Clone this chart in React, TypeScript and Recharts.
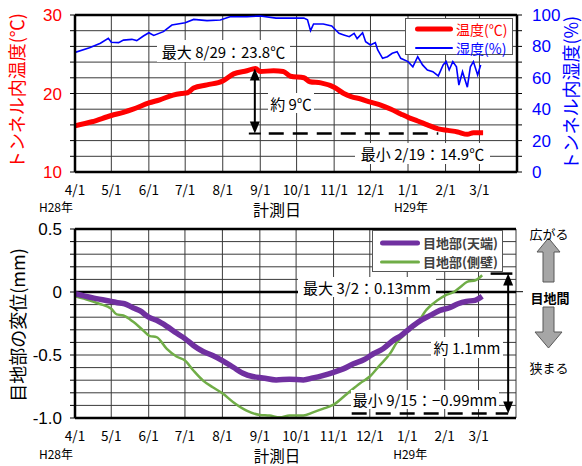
import React from "react";
import {
  LineChart,
  Line,
  XAxis,
  YAxis,
  CartesianGrid,
  ReferenceLine,
  Legend,
} from "recharts";

// days counted from 4/1 (H28)
const monthTicks = [0, 30, 61, 91, 122, 153, 183, 214, 244, 275, 306, 334, 365];
const monthLabels = ["4/1", "5/1", "6/1", "7/1", "8/1", "9/1", "10/1", "11/1", "12/1", "1/1", "2/1", "3/1", ""];
const eraLabels: Record<number, string> = { 0: "H28年", 275: "H29年" };

const tempTicks = [10, 12, 14, 16, 18, 20, 22, 24, 26, 28, 30];
const humTicks = [0, 10, 20, 30, 40, 50, 60, 70, 80, 90, 100];
const dispTicks = [-1, -0.9, -0.8, -0.7, -0.6, -0.5, -0.4, -0.3, -0.2, -0.1, 0, 0.1, 0.2, 0.3, 0.4, 0.5];

const temperature = [
  { day: 0, v: 15.9 }, { day: 14, v: 16.4 }, { day: 30, v: 17.2 }, { day: 40, v: 17.6 },
  { day: 48, v: 18.0 }, { day: 61, v: 18.8 }, { day: 70, v: 19.2 }, { day: 81, v: 19.8 },
  { day: 88, v: 20.0 }, { day: 93, v: 20.1 }, { day: 98, v: 20.7 }, { day: 109, v: 21.1 },
  { day: 122, v: 21.6 }, { day: 131, v: 22.5 }, { day: 142, v: 22.9 }, { day: 149, v: 23.2 },
  { day: 153, v: 22.8 }, { day: 164, v: 22.9 }, { day: 172, v: 22.8 }, { day: 178, v: 22.2 },
  { day: 189, v: 22.0 }, { day: 194, v: 21.5 }, { day: 203, v: 21.35 }, { day: 214, v: 20.8 },
  { day: 222, v: 20.0 }, { day: 228, v: 19.6 }, { day: 236, v: 19.3 }, { day: 244, v: 18.9 },
  { day: 253, v: 18.5 }, { day: 261, v: 18.0 }, { day: 269, v: 17.4 }, { day: 276, v: 16.9 },
  { day: 283, v: 16.5 }, { day: 291, v: 16.0 }, { day: 300, v: 15.5 }, { day: 308, v: 15.3 },
  { day: 316, v: 15.1 }, { day: 324, v: 14.8 }, { day: 329, v: 15.0 }, { day: 337, v: 15.0 },
];

const humidity = [
  { day: 0, v: 76.2 }, { day: 12, v: 79.2 }, { day: 21, v: 82 }, { day: 27.5, v: 85.2 },
  { day: 30, v: 82.6 }, { day: 36, v: 82.4 }, { day: 40, v: 84 }, { day: 47, v: 84.5 },
  { day: 51, v: 83.7 }, { day: 56.5, v: 86.6 }, { day: 61, v: 88.7 }, { day: 65, v: 87 },
  { day: 73, v: 89.4 }, { day: 80, v: 93.6 }, { day: 91, v: 95 }, { day: 98, v: 97.2 },
  { day: 109, v: 96.4 }, { day: 120, v: 96.8 }, { day: 128, v: 98.9 }, { day: 142, v: 98.9 },
  { day: 153, v: 99.4 }, { day: 166, v: 98 }, { day: 178, v: 98 }, { day: 189, v: 98 },
  { day: 192, v: 97 }, { day: 194.5, v: 90 }, { day: 197, v: 94.3 }, { day: 205, v: 94.3 },
  { day: 212, v: 93 }, { day: 218, v: 88.3 }, { day: 222, v: 87.3 }, { day: 226.5, v: 86.2 },
  { day: 230.5, v: 88.3 }, { day: 233, v: 85 }, { day: 237.5, v: 88.7 }, { day: 240, v: 83 },
  { day: 244, v: 80.9 }, { day: 248, v: 82.4 }, { day: 250, v: 77.7 }, { day: 254, v: 72.4 },
  { day: 258, v: 73.4 }, { day: 262, v: 75.6 }, { day: 266, v: 76.6 }, { day: 269, v: 72.4 },
  { day: 275, v: 70.3 }, { day: 279, v: 67 }, { day: 283, v: 73.4 }, { day: 287, v: 68.2 },
  { day: 291, v: 65 }, { day: 295.5, v: 63.9 }, { day: 300, v: 61.2 }, { day: 304, v: 68.2 },
  { day: 306.5, v: 70.3 }, { day: 309, v: 65 }, { day: 312, v: 70.3 }, { day: 315, v: 67 },
  { day: 317, v: 55.4 }, { day: 320, v: 63.9 }, { day: 324, v: 54 }, { day: 326.5, v: 67 },
  { day: 329, v: 70.3 }, { day: 332.5, v: 61.8 }, { day: 335, v: 68.2 },
];

// 目地部(天端)
const crown = [
  { day: 0, v: -0.013 }, { day: 14, v: -0.045 }, { day: 30, v: -0.074 }, { day: 37, v: -0.088 },
  { day: 41, v: -0.093 }, { day: 48, v: -0.125 }, { day: 54, v: -0.15 }, { day: 61, v: -0.2 },
  { day: 67.5, v: -0.225 }, { day: 76, v: -0.273 }, { day: 84, v: -0.326 }, { day: 91, v: -0.37 },
  { day: 98, v: -0.424 }, { day: 106, v: -0.472 }, { day: 114, v: -0.504 }, { day: 122, v: -0.544 },
  { day: 131, v: -0.597 }, { day: 139, v: -0.645 }, { day: 147, v: -0.671 }, { day: 155.5, v: -0.682 },
  { day: 166.5, v: -0.698 }, { day: 177.5, v: -0.692 }, { day: 189, v: -0.698 }, { day: 197, v: -0.682 },
  { day: 205, v: -0.663 }, { day: 214, v: -0.637 }, { day: 222, v: -0.61 }, { day: 230.5, v: -0.57 },
  { day: 239, v: -0.538 }, { day: 247, v: -0.49 }, { day: 255, v: -0.45 }, { day: 264, v: -0.38 },
  { day: 270, v: -0.345 }, { day: 277, v: -0.29 }, { day: 285, v: -0.233 }, { day: 294, v: -0.186 },
  { day: 302, v: -0.146 }, { day: 310, v: -0.125 }, { day: 317, v: -0.093 }, { day: 324, v: -0.074 },
  { day: 331, v: -0.066 }, { day: 337, v: -0.034 },
];

// 目地部(側壁)
const sideWall = [
  { day: 0, v: -0.034 }, { day: 9, v: -0.058 }, { day: 20, v: -0.093 }, { day: 30, v: -0.133 },
  { day: 34.5, v: -0.178 }, { day: 40, v: -0.186 }, { day: 48.5, v: -0.239 }, { day: 56.5, v: -0.305 },
  { day: 62, v: -0.35 }, { day: 67.5, v: -0.358 }, { day: 76, v: -0.451 }, { day: 84, v: -0.512 },
  { day: 91, v: -0.544 }, { day: 98, v: -0.623 }, { day: 106, v: -0.703 }, { day: 114, v: -0.756 },
  { day: 122, v: -0.804 }, { day: 131, v: -0.875 }, { day: 142, v: -0.942 }, { day: 153, v: -0.976 },
  { day: 161, v: -0.981 }, { day: 169.5, v: -0.995 }, { day: 177.5, v: -0.981 }, { day: 189, v: -0.98 },
  { day: 197, v: -0.955 }, { day: 205, v: -0.928 }, { day: 214, v: -0.894 }, { day: 225, v: -0.809 },
  { day: 236, v: -0.724 }, { day: 244, v: -0.671 }, { day: 252, v: -0.584 }, { day: 261, v: -0.485 },
  { day: 266, v: -0.406 }, { day: 275, v: -0.318 }, { day: 283, v: -0.252 }, { day: 291, v: -0.14 },
  { day: 300, v: -0.066 }, { day: 306.5, v: -0.027 }, { day: 313.5, v: 0 }, { day: 319, v: 0.04 },
  { day: 324.5, v: 0.08 }, { day: 331.5, v: 0.093 }, { day: 337, v: 0.133 },
];

const JP = "'Noto Sans CJK JP', 'Noto Sans', sans-serif";
const NUM = "'Liberation Sans', Arial, sans-serif";

const DateTick = (props: any) => {
  const { x, y, payload, offA, offB } = props;
  const i = monthTicks.indexOf(payload.value);
  const era = eraLabels[payload.value];
  return (
    <g>
      <text x={x} y={y + offA} textAnchor="middle" dominantBaseline="central" fontSize={13.5} fontFamily={JP} fill="#000">
        {monthLabels[i]}
      </text>
      {era && (
        <text x={payload.value === 0 ? x - 19 : x + 3} y={y + offB} textAnchor="middle" dominantBaseline="central" fontSize={12} fontFamily={JP} fill="#000">
          {era}
        </text>
      )}
    </g>
  );
};

const DoubleArrow = (props: any) => {
  const { x1, y1, y2, foot } = props;
  const top = Math.min(y1, y2);
  const bot = Math.max(y1, y2);
  const h = 12;
  const w = 5;
  return (
    <g>
      <line x1={x1} y1={top + h - 1} x2={x1} y2={bot - h + 1} stroke="#000" strokeWidth={2} />
      <polygon points={`${x1},${top} ${x1 - w},${top + h} ${x1 + w},${top + h}`} fill="#000" />
      <polygon points={`${x1},${bot} ${x1 - w},${bot - h} ${x1 + w},${bot - h}`} fill="#000" />
      {foot && <line x1={x1 - 6} y1={bot} x2={x1 + 6} y2={bot} stroke="#000" strokeWidth={2} />}
    </g>
  );
};

const LegendRow = ({ color, thick, label, textColor, bold, size, len }: any) => (
  <div style={{ display: "flex", alignItems: "center", height: 19, whiteSpace: "nowrap" }}>
    <svg width={len} height={8} style={{ marginRight: 3, flexShrink: 0 }}>
      <line x1={thick / 2} y1={4} x2={len - thick / 2} y2={4} stroke={color} strokeWidth={thick} strokeLinecap="round" />
    </svg>
    <span style={{ color: textColor, fontSize: size, fontWeight: bold ? 700 : 400, fontFamily: JP, lineHeight: 1, whiteSpace: "nowrap" }}>{label}</span>
  </div>
);

const TopLegend = () => (
  <div style={{ border: "1px solid #555", background: "#fff", width: 108, height: 37, boxSizing: "border-box", padding: "0 0 0 9px", overflow: "visible" }}>
    <LegendRow color="#ff0000" thick={5} len={38} label="温度(℃)" textColor="#ff0000" size={14} />
    <LegendRow color="#0000ff" thick={2} len={38} label="湿度(%)" textColor="#0000ff" size={14} />
  </div>
);

const BottomLegend = () => (
  <div style={{ border: "1px solid #555", background: "#fff", width: 131, height: 42, boxSizing: "border-box", padding: "2px 0 0 7px", overflow: "visible" }}>
    <LegendRow color="#7030a0" thick={5} len={40} label="目地部(天端)" textColor="#404040" bold size={13} />
    <LegendRow color="#70ad47" thick={3} len={40} label="目地部(側壁)" textColor="#404040" bold size={13} />
  </div>
);

const Note = ({ left, top, width, height, text, size = 15 }: any) => (
  <div
    style={{
      position: "absolute", left, top, width, height, background: "#fff",
      display: "flex", alignItems: "center", justifyContent: "center",
      fontSize: size, fontFamily: JP, whiteSpace: "nowrap", lineHeight: 1, color: "#000",
    }}
  >
    {text}
  </div>
);

const VTitle = ({ cx, cy, text, color }: any) => (
  <div
    style={{
      position: "absolute", left: cx, top: cy, transform: "translate(-50%, -50%) rotate(-90deg)",
      fontSize: 18, fontFamily: JP, color, whiteSpace: "nowrap", lineHeight: 1,
    }}
  >
    {text}
  </div>
);

const HText = ({ cx, cy, text, size = 16, bold = false }: any) => (
  <div
    style={{
      position: "absolute", left: cx, top: cy, transform: "translate(-50%, -50%)",
      fontSize: size, fontWeight: bold ? 700 : 400, fontFamily: JP, whiteSpace: "nowrap", lineHeight: 1, color: "#000",
    }}
  >
    {text}
  </div>
);

const dispFormat = (v: number) => {
  const k = Math.round(v * 10);
  if (k === 5) return "0.5";
  if (k === 0) return "0";
  if (k === -5) return "-0.5";
  if (k === -10) return "-1.0";
  return "";
};

export default function App() {
  return (
    <div style={{ position: "absolute", left: 0, top: 0, width: 582, height: 466, background: "#fff", fontFamily: JP }}>
      <div style={{ position: "absolute", left: 0, top: 0 }}>
        <LineChart width={582} height={225} margin={{ top: 15, right: 20, bottom: 23, left: 0 }}>
          <CartesianGrid yAxisId="t" stroke="#3a3a3a" strokeWidth={1} />
          <XAxis
            type="number" dataKey="day" domain={[0, 365]} ticks={monthTicks} interval={0}
            tick={<DateTick offA={16.5} offB={34} />} tickSize={0} tickMargin={0} tickLine={false}
            height={30} axisLine={{ stroke: "#000", strokeWidth: 2.5 }} allowDataOverflow
          />
          <YAxis
            yAxisId="t" domain={[10, 30]} ticks={tempTicks} interval={0} width={75}
            tickFormatter={(v: number) => (v % 10 === 0 ? String(v) : "")}
            tick={{ fill: "#ff0000", fontSize: 17, fontFamily: NUM }}
            tickSize={5} tickMargin={8} tickLine={{ stroke: "#000" }}
            axisLine={{ stroke: "#000", strokeWidth: 2.5 }}
          />
          <YAxis
            yAxisId="h" orientation="right" domain={[0, 100]} ticks={humTicks} interval={0} width={45}
            tickFormatter={(v: number) => (v % 20 === 0 ? String(v) : "")}
            tick={{ fill: "#0000ff", fontSize: 17, fontFamily: NUM }}
            tickSize={5} tickMargin={10} tickLine={{ stroke: "#000" }}
            axisLine={{ stroke: "#000", strokeWidth: 2.5 }}
          />
          <ReferenceLine yAxisId="t" y={30} stroke="#000" strokeWidth={2.5} />
          <Line data={humidity} yAxisId="h" dataKey="v" type="linear" stroke="#0000ff" strokeWidth={1.6} dot={false} isAnimationActive={false} />
          <Line data={temperature} yAxisId="t" dataKey="v" type="monotone" stroke="#ff0000" strokeWidth={5} dot={false} isAnimationActive={false} />
          <ReferenceLine
            yAxisId="t" segment={[{ x: 160, y: 14.9 }, { x: 300, y: 14.9 }]}
            stroke="#000" strokeWidth={2.5} strokeDasharray="15 9"
          />
          <ReferenceLine
            yAxisId="t" segment={[{ x: 148.5, y: 23.2 }, { x: 148.5, y: 14.9 }]}
            shape={<DoubleArrow foot />}
          />
          <Legend
            layout="vertical" align="center" verticalAlign="middle"
            content={() => <TopLegend />}
            wrapperStyle={{ left: 405, top: 18, width: 108, height: 37 }}
          />
        </LineChart>
      </div>

      <div style={{ position: "absolute", left: 0, top: 220 }}>
        <LineChart width={582} height={246} margin={{ top: 9, right: 66, bottom: 18, left: 0 }}>
          <CartesianGrid stroke="#3a3a3a" strokeWidth={1} />
          <XAxis
            type="number" dataKey="day" domain={[0, 365]} ticks={monthTicks} interval={0}
            tick={<DateTick offA={17} offB={35.5} />} tickSize={0} tickMargin={0} tickLine={false}
            height={30} axisLine={{ stroke: "#000", strokeWidth: 2.5 }} allowDataOverflow
          />
          <YAxis
            domain={[-1, 0.5]} ticks={dispTicks} interval={0} width={75}
            tickFormatter={dispFormat}
            tick={{ fill: "#000", fontSize: 17, fontFamily: NUM }}
            tickSize={5} tickMargin={8} tickLine={{ stroke: "#000" }}
            axisLine={{ stroke: "#000", strokeWidth: 2.5 }}
          />
          <ReferenceLine y={0.5} stroke="#000" strokeWidth={2.5} />
          <ReferenceLine y={0} stroke="#000" strokeWidth={2.5} />
          <Line data={sideWall} dataKey="v" type="monotone" stroke="#70ad47" strokeWidth={2.5} dot={false} isAnimationActive={false} />
          <Line data={crown} dataKey="v" type="monotone" stroke="#7030a0" strokeWidth={5.5} dot={false} isAnimationActive={false} />
          <ReferenceLine
            segment={[{ x: 229, y: -0.965 }, { x: 358.5, y: -0.965 }]}
            stroke="#000" strokeWidth={2.5} strokeDasharray="15 9"
          />
          <ReferenceLine
            segment={[{ x: 344, y: 0.146 }, { x: 362, y: 0.146 }]}
            stroke="#000" strokeWidth={2.5}
          />
          <ReferenceLine
            segment={[{ x: 358.5, y: 0.146 }, { x: 358.5, y: -0.965 }]}
            shape={<DoubleArrow />}
          />
          <Legend
            layout="vertical" align="center" verticalAlign="middle"
            content={() => <BottomLegend />}
            wrapperStyle={{ left: 372, top: 10, width: 131, height: 42 }}
          />
        </LineChart>
      </div>

      {/* annotations */}
      <Note left={157} top={40} width={133} height={22} text="最大 8/29：23.8℃" />
      <Note left={268} top={93} width={46} height={20} text="約 9℃" />
      <Note left={355} top={143} width={135} height={21} text="最小 2/19：14.9℃" />
      <Note left={298} top={277} width={138} height={20} text="最大 3/2：0.13mm" />
      <Note left={431} top={337} width={72} height={21} text="約 1.1mm" />
      <Note left={351} top={390} width={148} height={19} text="最小 9/15：−0.99mm" />

      <VTitle cx={16} cy={91} text="トンネル内温度(℃)" color="#ff0000" />
      <VTitle cx={570} cy={93} text="トンネル内湿度(%)" color="#0000ff" />
      <VTitle cx={17} cy={325} text="目地部の変位(mm)" color="#000" />

      <HText cx={277} cy={209} text="計測日" />
      <HText cx={277} cy={456} text="計測日" size={15.5} />

      <svg width={582} height={466} style={{ position: "absolute", left: 0, top: 0, pointerEvents: "none" }}>
        <line x1={516} y1={291.7} x2={523} y2={291.7} stroke="#000" strokeWidth={1} />
        <polygon points="548.5,238 560,252 554,252 554,282 543,282 543,252 537,252" fill="#a6a6a6" stroke="#595959" strokeWidth={1} />
        <polygon points="543,307 554,307 554,332 562,332 548.5,348 535,332 543,332" fill="#a6a6a6" stroke="#595959" strokeWidth={1} />
      </svg>
      <HText cx={549} cy={233} text="広がる" size={13} />
      <HText cx={550} cy={297} text="目地間" size={13} bold />
      <HText cx={549} cy={367} text="狭まる" size={13} />
    </div>
  );
}
